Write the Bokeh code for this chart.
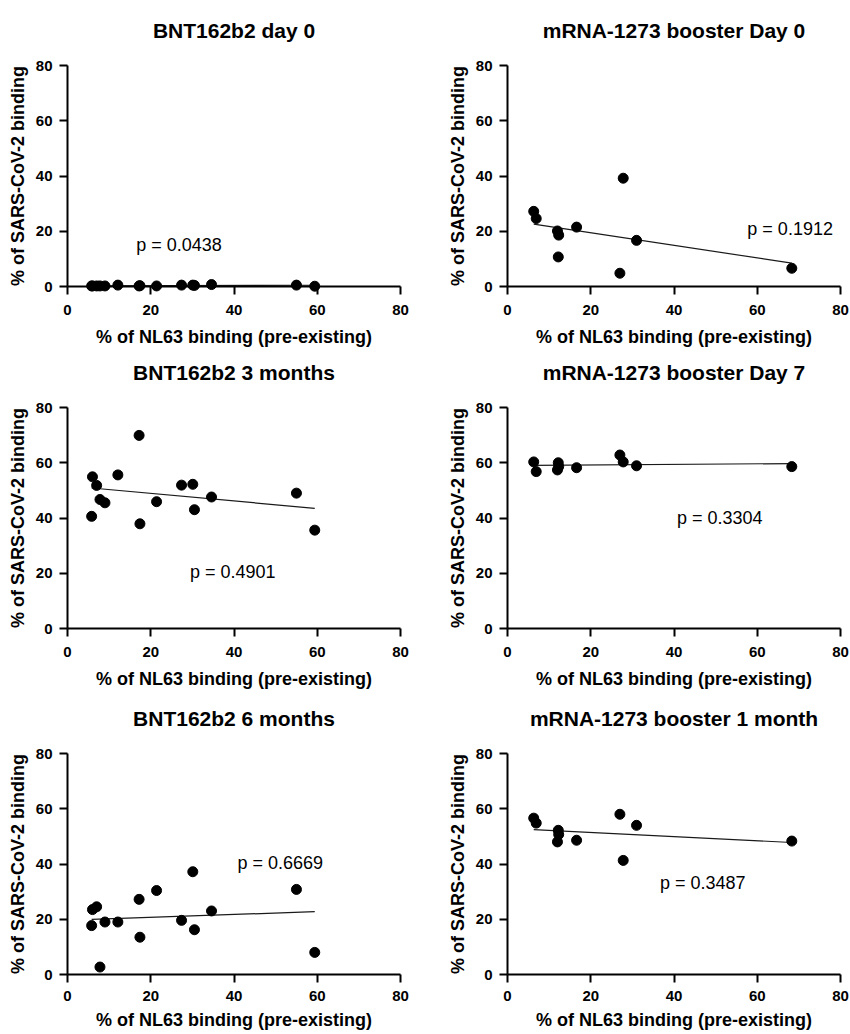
import numpy as np
from bokeh.plotting import figure
from bokeh.models import Range1d, Label, FixedTicker, LinearAxis
from bokeh.layouts import column, row
from bokeh.embed import file_html
from bokeh.resources import INLINE

# ---------------- data ----------------
tick_values = [0, 20, 40, 60, 80]

bnt_x = [5.8, 6.0, 7.0, 7.8, 9.0, 12.1, 17.2, 17.4, 21.4, 27.4, 30.1, 30.5, 34.6, 55.0, 59.4]
bnt_day0 = [0.2, 0.2, 0.2, 0.2, 0.2, 0.5, 0.2, 0.3, 0.2, 0.5, 0.5, 0.4, 0.7, 0.5, 0.1]
bnt_3m = [40.6, 54.9, 51.8, 46.7, 45.5, 55.6, 69.9, 37.9, 45.9, 51.9, 52.2, 43.0, 47.6, 49.0, 35.6]
bnt_6m = [17.7, 23.5, 24.5, 2.7, 19.0, 19.0, 27.2, 13.5, 30.4, 19.6, 37.2, 16.2, 23.0, 30.8, 8.0]

mrna_x = [6.3, 6.9, 12.0, 12.2, 12.3, 16.6, 27.0, 27.8, 31.0, 68.3]
mrna_d0 = [27.2, 24.6, 20.1, 10.7, 18.6, 21.5, 4.8, 39.2, 16.7, 6.6]
mrna_d7 = [60.3, 56.8, 57.4, 60.0, 58.6, 58.2, 62.8, 60.3, 58.9, 58.6]
mrna_1m = [56.6, 54.8, 48.0, 52.2, 50.7, 48.6, 58.0, 41.3, 54.0, 48.3]

titles = ["BNT162b2 day 0", "mRNA-1273 booster Day 0",
          "BNT162b2 3 months", "mRNA-1273 booster Day 7",
          "BNT162b2 6 months", "mRNA-1273 booster 1 month"]
p_texts = ["p = 0.0438", "p = 0.1912", "p = 0.4901", "p = 0.3304", "p = 0.6669", "p = 0.3487"]

x_label = "% of NL63 binding (pre-existing)"
y_label = "% of SARS-CoV-2 binding"

# ---------------- styling / layout ----------------
FONT = "Liberation Sans"

series = [(bnt_x, bnt_day0), (mrna_x, mrna_d0),
          (bnt_x, bnt_3m), (mrna_x, mrna_d7),
          (bnt_x, bnt_6m), (mrna_x, mrna_1m)]

# label anchor positions (data units) for the p-value texts
p_pos = [(26.8, 14.9), (67.9, 20.9), (39.7, 20.5), (51.0, 40.0), (51.1, 40.4), (46.9, 33.0)]

# row geometry: (height, border_top, border_bottom, tick label standoff, axis label standoff)
row_geo = [(355, 65, 69, 10, 9), (346, 52, 73, 10, 9), (333, 52, 60, 8, 6)]
# column geometry: (width, border_left, border_right)
col_geo = [(425, 67, 25), (425, 82, 10)]


def make_panel(i):
    r, c = divmod(i, 2)
    h, bt, bb, tls, als = row_geo[r]
    w, bl, br = col_geo[c]
    p = figure(width=w, height=h, output_backend="svg", toolbar_location=None,
               x_range=Range1d(0, 80), y_range=Range1d(0, 80),
               min_border_left=bl, min_border_right=br,
               min_border_top=bt, min_border_bottom=bb)
    p.outline_line_color = None
    p.xgrid.visible = False
    p.ygrid.visible = False
    p.background_fill_color = "white"
    p.border_fill_color = "white"

    for ax in (p.xaxis[0], p.yaxis[0]):
        ax.ticker = FixedTicker(ticks=tick_values)
        ax.axis_line_width = 2
        ax.axis_line_color = "black"
        ax.major_tick_line_width = 2
        ax.major_tick_line_color = "black"
        ax.major_tick_out = 8
        ax.major_tick_in = 0
        ax.minor_tick_out = 0
        ax.minor_tick_in = 0
        ax.major_label_text_font = FONT
        ax.major_label_text_font_size = "15px"
        ax.major_label_text_font_style = "bold"
        ax.major_label_text_color = "black"
        ax.axis_label_text_font = FONT
        ax.axis_label_text_font_size = "18px"
        ax.axis_label_text_font_style = "bold"
        ax.axis_label_text_color = "black"
    p.xaxis[0].axis_label = x_label
    p.yaxis[0].axis_label = y_label
    p.xaxis[0].major_label_standoff = tls
    p.xaxis[0].axis_label_standoff = als
    p.yaxis[0].major_label_standoff = 7
    p.yaxis[0].axis_label_standoff = 5

    # panel title: an undecorated axis above the frame carrying the title text
    tax = LinearAxis(ticker=FixedTicker(ticks=[]), axis_label=titles[i],
                     axis_line_color=None, major_tick_out=0, major_tick_in=0,
                     minor_tick_out=0, minor_tick_in=0, major_label_standoff=0,
                     axis_label_standoff=24, axis_label_text_font=FONT,
                     axis_label_text_font_size="21px",
                     axis_label_text_font_style="bold",
                     axis_label_text_color="black")
    p.add_layout(tax, "above")

    xs, ys = series[i]
    xa = np.array(xs, dtype=float)
    ya = np.array(ys, dtype=float)
    slope, intercept = np.polyfit(xa, ya, 1)
    fx = np.array([xa.min(), xa.max()])
    p.line(fx, slope * fx + intercept, line_color="#1a1a1a", line_width=1.2)
    p.scatter(xs, ys, size=10, color="black", level="overlay")

    lx, ly = p_pos[i]
    p.add_layout(Label(x=lx, y=ly, text=p_texts[i], text_align="center",
                       text_baseline="middle", text_font=FONT,
                       text_font_size="18px", text_color="black"))
    return p


panels = [make_panel(i) for i in range(6)]
layout = column(row(panels[0], panels[1]),
                row(panels[2], panels[3]),
                row(panels[4], panels[5]))

open("out.html", "w").write(file_html(layout, INLINE))
